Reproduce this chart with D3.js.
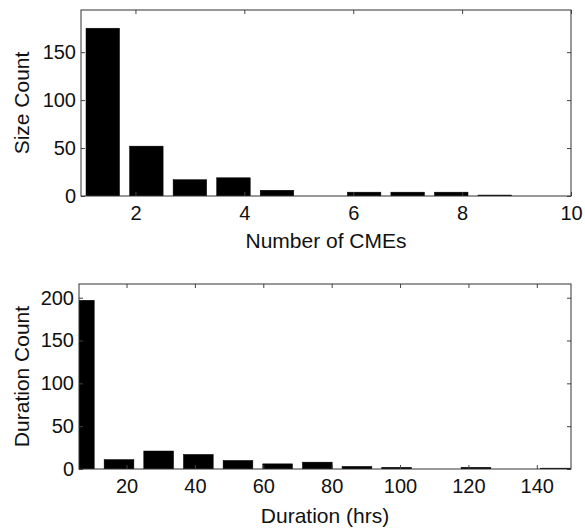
<!DOCTYPE html>
<html>
<head>
<meta charset="utf-8">
<script src="https://cdn.jsdelivr.net/npm/d3@7"></script>
<style>
	body { margin: 0; background: #fff; }
	svg { display: block; }
	.tick text { font-family: "Liberation Sans", Arial, sans-serif; font-size: 20px; fill: #111; }
	.axis-label { font-family: "Liberation Sans", Arial, sans-serif; font-size: 21px; fill: #111; }
</style>
</head>
<body>
<div id="chart"></div>
<script>
	// Size histogram (number of CMEs)
	let size_centers = [1.4, 2.2, 3.0, 3.8, 4.6, 5.4, 6.2, 7.0, 7.8, 8.6];
	let size_counts = [175, 52, 17, 19, 6, 0, 4, 4, 4, 1];
	let size_xticks = [2, 4, 6, 8, 10];
	let size_yticks = [0, 50, 100, 150];

	// Duration histogram (hours)
	let dur_centers = [6.2, 17.8, 29.4, 41.0, 52.6, 64.2, 75.8, 87.4, 99.0, 110.6, 122.2, 133.8, 145.4];
	let dur_counts = [197, 11, 21, 17, 10, 6, 8, 3, 2, 0, 2, 0, 1];
	let dur_xticks = [20, 40, 60, 80, 100, 120, 140];
	let dur_yticks = [0, 50, 100, 150, 200];

	var svg_width = 585,
		svg_height = 531;

	var svg = d3.select("#chart").append("svg")
		.attr("width", svg_width)
		.attr("height", svg_height);

	function draw_hist(opts) {
		var w = opts.right - opts.left,
			h = opts.bottom - opts.top;

		var x = d3.scaleLinear().domain(opts.xdomain).range([0, w]);
		var y = d3.scaleLinear().domain(opts.ydomain).range([h, 0]);

		var g = svg.append("g")
			.attr("transform", "translate(" + opts.left + "," + opts.top + ")");

		g.append("clipPath")
			.attr("id", opts.id + "-clip")
			.append("rect")
			.attr("width", w)
			.attr("height", h);

		var binw = opts.centers[1] - opts.centers[0];
		var bw = x(opts.xdomain[0] + binw * opts.frac) - x(opts.xdomain[0]);

		g.append("g")
			.attr("clip-path", "url(#" + opts.id + "-clip)")
			.selectAll("rect")
			.data(opts.counts)
			.enter()
			.append("rect")
			.attr("x", function(d, i) { return x(opts.centers[i]) - bw / 2; })
			.attr("y", function(d) { return y(d); })
			.attr("width", bw)
			.attr("height", function(d) { return h - y(d); })
			.style("fill", "#000")
			.style("stroke", "#000")
			.style("stroke-width", 0.5);

		// axes, ticks inward like matlab
		var xb = d3.axisBottom(x).tickValues(opts.xticks).tickSizeInner(-4).tickSizeOuter(0).tickPadding(10);
		var xt = d3.axisTop(x).tickValues(opts.xticks).tickSizeInner(-4).tickSizeOuter(0).tickFormat("");
		var yl = d3.axisLeft(y).tickValues(opts.yticks).tickSizeInner(-4).tickSizeOuter(0).tickPadding(5);
		var yr = d3.axisRight(y).tickValues(opts.yticks).tickSizeInner(-4).tickSizeOuter(0).tickFormat("");

		g.append("g").attr("transform", "translate(0," + h + ")").call(xb);
		g.append("g").call(xt);
		g.append("g").call(yl);
		g.append("g").attr("transform", "translate(" + w + ",0)").call(yr);

		g.selectAll(".domain").remove();
		g.selectAll(".tick line").style("stroke", "#444");

		g.append("rect")
			.attr("width", w)
			.attr("height", h)
			.style("fill", "none")
			.style("stroke", "#333")
			.style("stroke-width", 1);

		g.append("text")
			.attr("class", "axis-label")
			.attr("x", w / 2)
			.attr("y", h + opts.xlabelDy)
			.attr("text-anchor", "middle")
			.text(opts.xlabel);

		g.append("text")
			.attr("class", "axis-label")
			.attr("transform", "translate(" + (opts.ylabelX - opts.left) + "," + (h / 2) + ") rotate(-90)")
			.attr("text-anchor", "middle")
			.text(opts.ylabel);
	}

	draw_hist({
		id: "size",
		left: 81, right: 571, top: 10, bottom: 196,
		xdomain: [1, 10], ydomain: [0, 194],
		centers: size_centers, counts: size_counts,
		xticks: size_xticks, yticks: size_yticks,
		frac: 0.77,
		xlabel: "Number of CMEs", xlabelDy: 52,
		ylabel: "Size Count", ylabelX: 29
	});

	draw_hist({
		id: "dur",
		left: 79, right: 571, top: 284, bottom: 469,
		xdomain: [6.1, 150], ydomain: [0, 216],
		centers: dur_centers, counts: dur_counts,
		xticks: dur_xticks, yticks: dur_yticks,
		frac: 0.75,
		xlabel: "Duration (hrs)", xlabelDy: 54,
		ylabel: "Duration Count", ylabelX: 29
	});
</script>
</body>
</html>
